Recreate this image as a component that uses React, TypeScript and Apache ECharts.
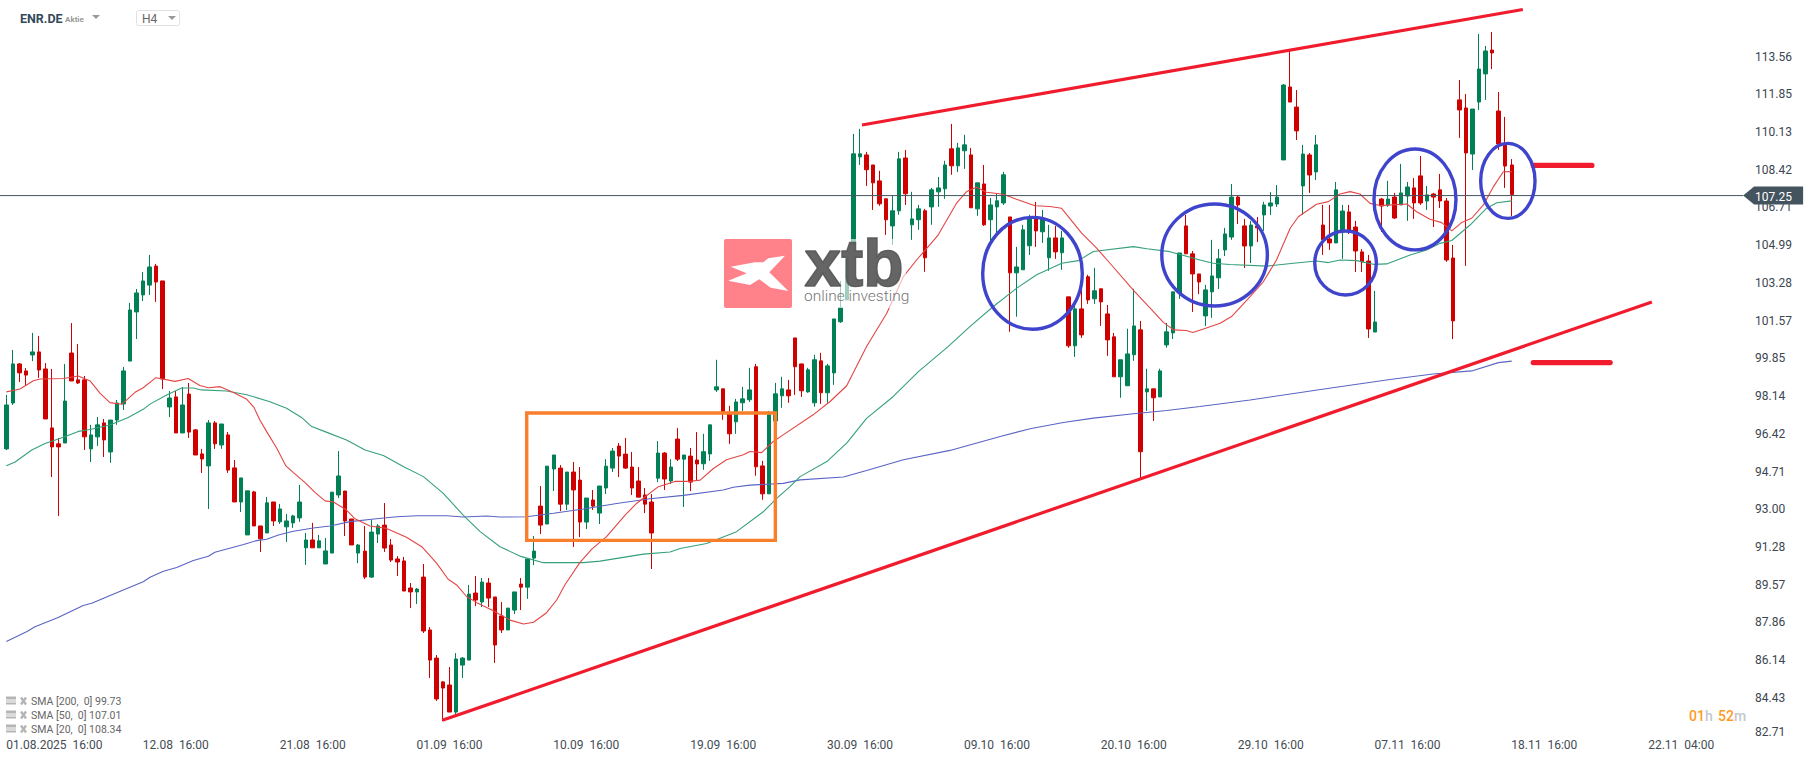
import React, { useEffect, useRef } from "react";
import * as echarts from "echarts";

// rows are [open, close, low, high]
const candlesAug = [
[95.60,97.61,95.55,98.07],[97.70,99.49,97.61,100.13],[99.49,99.08,98.66,99.53],[99.17,98.98,98.48,99.30],[99.90,100.04,99.62,100.91],
[100.04,99.21,98.85,100.77],[99.26,96.97,96.97,99.53],[96.56,95.69,94.31,99.26],[95.83,95.69,92.53,96.10],[95.87,97.79,95.87,99.49],
[99.99,98.71,98.71,101.36],[98.76,98.62,98.57,100.40],[98.76,96.15,95.55,98.94],[95.60,96.24,95.00,96.70],[96.15,96.70,95.73,97.06],
[96.79,96.01,95.23,96.97],[95.46,96.92,94.96,96.92],[96.92,97.70,96.70,97.84],[97.66,99.17,97.38,99.35],[99.62,101.96,99.62,102.28],
[101.87,102.74,100.63,102.92],[102.65,103.29,102.37,103.70],[103.10,103.93,102.65,104.48],[103.97,103.24,102.33,104.07],[103.29,98.80,98.34,103.29],
[97.52,97.93,97.06,98.25],[97.98,96.33,96.33,98.25],[96.33,97.61,96.33,98.43],[98.11,96.37,96.10,98.62],[96.47,95.32,95.32,96.51],
[95.37,95.14,94.50,95.60],[94.82,96.79,92.85,96.92],[96.79,95.83,95.60,96.88],[95.78,96.74,95.60,96.74],[96.24,94.63,94.50,96.37],
[94.73,93.17,93.17,95.09],[93.17,94.27,92.71,94.27],[91.66,93.68,91.66,93.68],[93.63,92.07,92.07,93.68],[92.07,91.48,90.88,92.07],
[91.75,93.13,91.75,93.40],[93.17,92.30,92.07,93.17],[92.26,92.85,92.16,93.08],[92.03,92.30,91.34,92.62],[92.21,92.53,91.98,92.58],
[92.44,93.17,92.26,93.95],[91.07,91.43,90.29,91.75],[91.43,91.07,91.07,92.21],[91.07,91.39,91.07,91.66],[90.33,90.93,90.33,91.52],
[90.83,93.62,90.83,93.62],[93.49,94.36,93.35,95.50],[93.67,92.30,91.61,93.67],[92.39,91.20,91.20,92.39],[90.83,91.20,90.37,91.24],
[90.92,89.73,89.64,92.07],[89.73,91.79,89.69,92.34],[91.70,92.07,91.29,92.16],[92.11,91.06,90.88,93.12],[91.20,90.51,90.42,91.47],
[90.56,90.42,89.78,90.69],[90.47,89.09,89.09,90.65],[89.23,89.05,88.31,89.46],[89.05,89.18,88.50,89.23],[89.73,87.26,87.17,90.33],
[87.31,85.93,85.11,87.44],[86.02,84.15,84.06,86.16],[84.93,84.65,83.14,84.97],
];
const candlesSep = [
[84.79,83.55,83.55,85.61],[83.55,85.98,83.41,86.25],[85.70,86.02,85.11,86.07],[85.93,88.95,85.93,89.37],[89.00,88.68,88.40,89.78],
[88.59,89.50,88.36,89.69],[89.46,88.77,88.36,89.69],[88.82,86.62,85.80,88.82],[87.95,87.31,87.17,88.59],[87.31,88.31,87.31,88.31],
[88.22,89.05,88.04,89.05],[89.41,89.27,88.22,89.69],[89.27,90.56,88.73,90.56],[90.60,90.92,90.28,91.61],[92.98,92.11,91.70,93.90],
[92.16,94.81,92.16,94.81],[94.68,95.32,93.67,95.32],[94.72,93.07,92.75,94.86],[93.07,94.54,92.80,94.54],[94.54,93.72,91.11,95.00],
[94.17,92.25,91.56,94.77],[92.25,93.35,91.93,93.35],[93.26,92.98,92.80,93.72],[92.66,93.90,92.16,93.90],[93.81,94.81,93.53,95.13],
[94.72,95.50,94.54,95.64],[95.73,95.27,94.31,95.87],[95.36,94.72,94.68,96.10],[94.77,93.81,93.49,95.46],[94.13,93.39,93.39,94.77],
[93.49,93.07,92.66,93.81],[93.17,91.75,90.10,93.53],[94.26,95.41,94.08,95.96],[95.41,94.22,93.72,95.46],[94.13,94.77,93.99,95.13],
[96.05,95.13,95.04,96.55],[95.13,95.32,92.94,95.32],[95.27,94.08,93.67,95.64],[95.09,94.91,94.13,96.37],[94.92,95.47,94.64,96.29],
[95.37,96.70,95.05,96.70],[98.30,98.44,98.21,99.68],[98.35,97.30,96.93,98.35],[97.25,96.29,95.83,97.57],[96.84,97.75,96.29,97.89],
[97.71,97.89,97.34,98.44],[97.85,98.30,97.75,99.31],[99.36,94.78,94.37,99.49],[94.82,93.54,93.27,95.05],[93.54,97.16,93.54,97.34],
[96.88,98.12,96.88,98.62],[98.03,98.35,97.48,98.90],[98.30,98.03,97.71,98.76],[100.68,99.36,98.07,100.68],[99.49,98.26,97.98,99.49],
[98.21,99.22,98.17,99.31],[97.71,99.68,97.53,99.91],[99.63,98.17,97.66,100.00],[98.17,99.40,97.71,99.49],[99.08,101.55,98.53,101.55],
[101.42,102.06,101.37,103.29],[102.42,104.30,102.42,104.35],[104.94,109.11,104.91,110.02],
];
const candlesOct = [
[108.97,109.11,108.60,110.25],[109.06,108.38,107.64,109.20],[108.60,107.78,106.54,108.60],[107.87,106.82,106.73,108.33],[107.05,106.09,105.40,107.05],
[105.81,106.50,104.94,107.19],[106.50,108.88,106.32,109.20],[108.92,107.28,106.77,109.29],[105.86,106.13,105.17,107.37],[106.09,106.59,105.63,106.77],
[106.50,104.35,103.71,106.59],[106.68,107.46,105.86,107.55],[107.37,107.55,106.68,108.05],[107.51,108.60,107.05,108.79],[109.34,108.56,108.15,110.48],
[108.56,109.38,108.28,109.61],[109.25,109.52,108.42,109.98],[109.06,106.64,106.64,109.38],[106.59,107.78,106.27,107.78],[107.73,105.86,105.81,108.60],
[106.09,106.77,105.03,107.09],[106.68,106.96,105.40,107.28],[106.86,108.15,106.77,108.28],[106.22,103.66,100.96,106.22],[103.66,103.93,101.65,104.85],
[103.80,105.63,103.80,105.86],[104.90,106.13,104.48,106.32],[106.13,105.58,104.85,106.91],[105.54,106.13,105.03,106.54],[104.35,105.26,103.75,105.86],
[105.26,104.62,104.30,105.81],[104.58,105.26,103.80,105.58],[102.56,100.32,100.23,102.56],[100.32,102.01,99.81,102.15],[102.01,100.82,100.68,102.88],
[103.48,102.42,102.24,103.57],[102.47,102.84,102.24,103.89],[102.93,102.33,101.23,102.93],[101.78,100.59,99.86,102.19],[100.73,98.90,98.90,100.91],
[98.90,99.68,97.94,99.68],[98.49,99.95,98.49,101.10],[99.91,101.23,99.63,102.93],[101.05,95.47,94.28,101.46],[98.21,98.35,97.34,99.27],
[98.35,97.94,96.88,98.35],[97.98,99.17,97.98,99.27],[100.36,100.96,100.23,101.37],[100.91,102.79,100.63,102.79],[102.74,104.57,102.47,104.57],
[105.81,104.53,104.53,106.31],[104.53,103.61,101.87,104.66],[103.61,103.24,102.69,103.61],[101.69,102.88,101.23,103.11],[102.79,103.52,101.60,105.17],
[103.43,104.30,102.92,104.75],[104.71,105.44,104.43,105.72],[105.30,107.13,105.17,107.73],[107.13,106.77,105.90,107.18],[105.81,104.89,103.88,106.13],
[104.89,105.85,104.11,106.04],[105.81,105.72,105.07,106.22],[106.31,106.77,105.58,106.91],[106.72,106.86,106.31,107.36],[106.81,107.13,106.68,107.68],
];
const candlesNov = [
[108.83,112.26,108.83,112.31],[112.17,111.48,111.48,113.86],[111.25,110.16,109.74,112.03],[107.64,109.10,106.31,109.52],[109.06,108.14,107.32,109.15],
[108.28,109.52,107.91,109.97],[105.85,105.17,104.48,106.77],[105.21,105.03,104.71,106.77],[105.03,107.46,105.03,107.82],[105.58,106.49,104.30,106.77],
[106.45,105.62,105.44,106.77],[105.76,104.66,103.70,106.04],[104.62,104.16,103.70,104.75],[104.20,101.09,100.68,104.48],[100.95,101.41,100.95,102.83],
[107.04,106.72,105.53,107.09],[106.77,107.04,106.68,107.87],[107.13,106.17,106.13,107.32],[106.77,107.32,106.77,108.65],[107.18,107.59,106.04,107.82],
[107.55,106.86,106.13,108.00],[108.10,106.86,106.77,109.01],[106.95,107.23,106.54,107.64],[107.27,107.13,105.76,107.32],[107.46,106.95,106.63,108.19],
[106.95,104.25,104.16,107.09],[104.34,101.46,100.63,104.94],[111.58,111.12,109.84,112.49],[111.21,109.15,103.98,111.85],[109.10,111.16,108.37,111.16],
[111.48,112.99,111.12,114.60],[112.77,113.82,111.58,114.05],[113.86,113.73,112.99,114.69],[111.07,109.56,109.29,111.94],[109.52,108.55,107.55,110.80],
[108.60,107.25,106.26,108.87],
];

// [bar position, value]
const sma20 = [
[0,98.21],[2.1,98.34],[4.15,98.72],[5.2,98.8],[8.75,98.82],[11.05,98.94],[12.85,98.71],[14.4,98.14],[15.9,97.72],[17.7,97.64],[19.75,98.19],[21,98.4],[22.95,98.86],[25.9,98.69],[27.9,98.82],[29.7,98.5],[31,98.4],[32.8,98.45],[34.85,98.18],[36.9,97.87],[38,97.5],[38.9,96.92],[39.95,96.39],[41.5,95.63],[42.9,94.82],[44.05,94.51],[45.8,94.07],[47.4,93.6],[48.9,93.22],[50.2,93.17],[52.2,92.8],[53.5,92.4],[55.8,92.07],[58.35,91.96],[61.4,91.55],[63.75,91.12],[66.05,90.36],[67.8,89.63],[69.1,89.37],[70.65,88.83],[72.2,88.56],[74.5,88.22],[77.3,87.76],[79.35,87.58],[80.9,87.66],[82.9,88.1],[84.45,88.68],[85.7,89.37],[88,90.39],[89.8,91],[92.1,91.58],[94.95,92.57],[96.7,93.1],[100.05,93.87],[102.6,94.11],[104.65,94.11],[106.45,94.17],[108.5,94.7],[110.5,95.1],[113.1,95.33],[114.1,95.48],[115.9,95.43],[117.7,95.94],[119.2,96.24],[123.8,97.16],[126.4,97.77],[128.95,98.49],[132,100.29],[135.1,101.81],[137.65,103.49],[139.7,104.26],[141.7,104.94],[143,105.4],[145.8,106.85],[147.35,107.38],[148.9,107.58],[150.4,107.35],[153,107.26],[155,107.03],[157.85,106.73],[160.15,106.7],[161.9,106.62],[165,105.48],[167.3,104.79],[169.35,104.1],[172.9,102.88],[177.55,101.39],[179.1,101.05],[181.1,101.02],[182.05,100.93],[183.7,101.09],[186.25,101.35],[188,101.66],[190.85,102.57],[192.9,103.26],[194.9,104.25],[197,105.7],[198.25,106.23],[201.05,106.8],[202.85,106.92],[204.65,107.27],[206.2,107.38],[207.7,107.27],[209.25,106.84],[210.8,106.74],[214.9,106.81],[216.4,106.46],[218.45,106.11],[220.25,105.96],[221.8,105.58],[223.3,105.96],[224.85,106.16],[226.65,106.77],[228.2,107.61],[229.7,108.29],[231,108.34],
];
const sma50 = [
[0,94.83],[1.35,95],[3.9,95.55],[5.95,95.85],[8.75,96.13],[11.05,96.4],[12.85,96.49],[15.9,96.69],[18.7,97.04],[21,97.41],[22.05,97.65],[24.6,98.07],[26.9,98.39],[28.7,98.39],[29.95,98.3],[33.8,98.25],[36.9,98.08],[40.45,97.76],[43,97.46],[45.3,97.04],[46.85,96.62],[48.9,96.39],[52.2,96.01],[55.05,95.55],[57.85,95.3],[60.9,94.79],[64,94.33],[67.05,93.56],[70.1,92.57],[72.7,91.81],[75.75,91.12],[78.8,90.69],[82.4,90.39],[88.55,90.39],[91.1,90.46],[97.75,90.78],[101.85,90.88],[103.4,91.04],[107.45,91.27],[112.05,91.81],[116.15,92.72],[118.2,93.33],[120.25,93.87],[121.8,94.33],[125.9,95.02],[128.95,95.86],[132,97],[136.1,98],[139.95,99.14],[144.55,100.29],[147.85,101.2],[151.45,102.12],[155.05,102.96],[158.1,103.57],[161.95,104.1],[164.5,104.22],[166.8,104.64],[172.95,104.86],[175,104.76],[178.55,104.63],[183.15,104.25],[185.2,104.1],[187.75,104.04],[193.4,103.97],[197.5,104.1],[201.05,104.2],[202.85,104.13],[204.65,104.25],[207.2,104.22],[209.75,104.05],[211.8,104.07],[215.4,104.48],[217.95,104.71],[220,105.01],[221.8,105.14],[224.6,105.85],[227.15,106.62],[228.7,106.87],[231,107.01],
];
const sma200 = [
[0,86.78],[3.1,87.23],[4.4,87.46],[7.95,87.88],[11.8,88.43],[13.1,88.53],[14.65,88.73],[17.95,89.14],[21,89.52],[22.05,89.72],[24.1,90],[26.15,90.17],[28.7,90.49],[31,90.68],[32,90.87],[36.4,91.22],[38.4,91.4],[39.95,91.46],[41.75,91.66],[44.05,91.83],[47.1,91.98],[49.65,92.07],[52.75,92.27],[56.8,92.4],[59.9,92.49],[63,92.54],[67.55,92.54],[70.1,92.48],[73.7,92.53],[75.75,92.48],[79.85,92.49],[83.95,92.65],[88.55,92.85],[93.65,93.1],[98.75,93.32],[103.9,93.47],[110,93.72],[111.55,93.84],[114.1,93.94],[119.2,94.02],[121.8,94.18],[128.45,94.31],[132,94.61],[137.65,95.1],[144.8,95.53],[152.5,96.17],[157.1,96.52],[162.2,96.81],[166.8,97.01],[172.95,97.21],[178.05,97.36],[183.15,97.54],[190.85,97.84],[203.25,98.39],[212.6,98.79],[218.95,99.03],[224.85,99.17],[228.95,99.55],[231,99.73],
];

const BAR_SLOTS = 267;
const yTicks = [113.56,111.85,110.13,108.42,106.71,104.99,103.28,101.57,99.85,98.14,96.42,94.71,93.0,91.28,89.57,87.86,86.14,84.43,82.71];
const xTickIndex = [0,26,47,68,89,110,131,152,173,194,215,236,257];
const xTickText = ["01.08.2025  16:00","12.08  16:00","21.08  16:00","01.09  16:00","10.09  16:00","19.09  16:00","30.09  16:00","09.10  16:00","20.10  16:00","29.10  16:00","07.11  16:00","18.11  16:00","22.11  04:00"];
const lastPrice = 107.25;
const smaLegend = ["SMA [200,  0] 99.73","SMA [50,  0] 107.01","SMA [20,  0] 108.34"];

// [x1, price1, x2, price2]
const trendLines = [[66.9,83.17,252.5,102.33],[131.3,110.43,232.7,115.72]];
const levelLines = [[234.3,108.58,243.3,108.58],[234.3,99.55,246.1,99.55]];
const boxes = [[79.85,97.24,118,91.41]];
// [centre x, centre price, radius in bars, radius in price]
const circles = [[157.46,103.64,7.64,2.56],[185.4,104.48,8.1,2.335],[205.5,104.11,4.73,1.465],[216.15,107.02,6.29,2.31],[230.4,107.87,4.17,1.717]];

// The readings above were taken with a first axis fit; the tick labels give this finer one.
const READ_SLOPE = 0.99228;
const fit = (p: number) => 113.563 - READ_SLOPE * (113.56 - p);

const UP = "#008054", DOWN = "#CF0000", TEXT = "#3b4650", FONT = "Roboto";

export default function App() {
  const ref = useRef<HTMLDivElement>(null);
  useEffect(() => {
    const chart = echarts.init(ref.current!, null, { renderer: "svg" });
    const candles = [...candlesAug, ...candlesSep, ...candlesOct, ...candlesNov].map((r) => r.map(fit));
    const categories = Array.from({ length: BAR_SLOTS }, (_, i) => {
      const k = xTickIndex.indexOf(i);
      return k >= 0 ? xTickText[k] : "";
    });
    const smaLine = (name: string, data: number[][], color: string) => ({
      name, type: "line", data: data.map(([x, v], i) => [x, i === data.length - 1 ? v : fit(v)]), xAxisIndex: 1, yAxisIndex: 0, showSymbol: false, symbol: "none", smooth: false,
      lineStyle: { color, width: 1.1 }, z: 3, silent: true,
    });
    const fitSeg = (r: number[]) => [r[0], fit(r[1]), r[2], fit(r[3])];
    const grid = { left: 3.07, top: 0, width: 1740.04, height: 738 };
    const segment = (color: string, width: number, cap: string) => (_: any, api: any) => {
      const a = api.coord([api.value(0), api.value(1)]);
      const b = api.coord([api.value(2), api.value(3)]);
      return { type: "line", shape: { x1: a[0], y1: a[1], x2: b[0], y2: b[1] }, style: { stroke: color, lineWidth: width, lineCap: cap } };
    };
    const icon = (y: number) => [
      { type: "rect", shape: { x: 6, y: y - 5, width: 10, height: 3 }, style: { fill: "#b5b5b5" } },
      { type: "rect", shape: { x: 6, y: y - 1, width: 10, height: 1 }, style: { fill: "#b5b5b5" } },
      { type: "rect", shape: { x: 6, y: y + 1, width: 10, height: 2 }, style: { fill: "#b5b5b5" } },
      { type: "line", shape: { x1: 21, y1: y - 4, x2: 26, y2: y + 3 }, style: { stroke: "#b5b5b5", lineWidth: 2.4 } },
      { type: "line", shape: { x1: 26, y1: y - 4, x2: 21, y2: y + 3 }, style: { stroke: "#b5b5b5", lineWidth: 2.4 } },
    ];
    const legendEls = smaLegend.flatMap((t, i) => {
      const y = 701.5 + i * 14;
      return [...icon(y), { type: "text", style: { x: 31, y, text: t, fill: "#666", font: `10.5px ${FONT}`, verticalAlign: "middle" } }];
    });
    chart.setOption({
      animation: false,
      backgroundColor: "#fff",
      textStyle: { fontFamily: FONT },
      grid,
      xAxis: [
        {
          type: "category", data: categories, boundaryGap: true,
          axisLine: { show: false }, axisTick: { show: false }, splitLine: { show: false },
          axisLabel: { interval: (_: number, v: string) => v !== "", color: "#444c54", fontSize: 12, fontFamily: FONT, margin: 1, alignMinLabel: "left", hideOverlap: false },
        },
        { type: "value", min: -0.5, max: BAR_SLOTS - 0.5, show: false, splitLine: { show: false } },
      ],
      yAxis: {
        type: "value", position: "right", scale: true, min: 82.606, max: 116.136,
        axisLine: { show: false }, axisTick: { show: false }, splitLine: { show: false },
        axisLabel: {
          customValues: yTicks,
          formatter: (v: number) => (v === 82.71 ? `{low|${v.toFixed(2)}}` : v.toFixed(2)),
          rich: { low: { color: TEXT, fontSize: 12, fontFamily: FONT, padding: [0, 0, 8, 0] } },
          color: TEXT, fontSize: 12, fontFamily: FONT, margin: 12, align: "left",
        },
      },
      series: [
        {
          name: "ENR.DE", type: "candlestick", data: candles, xAxisIndex: 0, yAxisIndex: 0, barWidth: 4, z: 2,
          itemStyle: { color: UP, color0: DOWN, borderColor: UP, borderColor0: DOWN, borderWidth: 1 },
        },
        smaLine("SMA 200", sma200, "#5a64c4"),
        smaLine("SMA 50", sma50, "#35a07c"),
        smaLine("SMA 20", sma20, "#e44545"),
        {
          name: "price", type: "custom", xAxisIndex: 1, yAxisIndex: 0, z: 4, silent: true,
          data: [[-0.97, BAR_SLOTS - 0.5, lastPrice]],
          renderItem: (_: any, api: any) => {
            const a = api.coord([api.value(0), api.value(2)]);
            const b = api.coord([api.value(1), api.value(2)]);
            const y = a[1];
            const tip = b[0];
            return {
              type: "group",
              children: [
                { type: "line", shape: { x1: a[0], y1: y, x2: tip, y2: y }, style: { stroke: "#44545f", lineWidth: 1 } },
                { type: "polygon", shape: { points: [[tip, y], [tip + 11, y - 9], [tip + 60, y - 9], [tip + 60, y + 9], [tip + 11, y + 9]] }, style: { fill: "#44545f" } },
                { type: "text", style: { x: tip + 12, y: y + 1, text: lastPrice.toFixed(2), fill: "#fff", font: `12px ${FONT}`, verticalAlign: "middle" } },
              ],
            };
          },
        },
        { name: "trend", type: "custom", xAxisIndex: 1, yAxisIndex: 0, z: 5, silent: true, data: trendLines.map(fitSeg), renderItem: segment("#f01c2d", 3.2, "butt") },
        { name: "levels", type: "custom", xAxisIndex: 1, yAxisIndex: 0, z: 5, silent: true, data: levelLines.map(fitSeg), renderItem: segment("#f01c2d", 5.2, "round") },
        {
          name: "box", type: "custom", xAxisIndex: 1, yAxisIndex: 0, z: 5, silent: true, data: boxes.map(fitSeg),
          renderItem: (_: any, api: any) => {
            const a = api.coord([api.value(0), api.value(1)]);
            const b = api.coord([api.value(2), api.value(3)]);
            return { type: "rect", shape: { x: a[0], y: a[1], width: b[0] - a[0], height: b[1] - a[1] }, style: { fill: "none", stroke: "#f97f2c", lineWidth: 3.4 } };
          },
        },
        {
          name: "circles", type: "custom", xAxisIndex: 1, yAxisIndex: 0, z: 6, silent: true,
          data: circles.map((c) => [c[0], fit(c[1]), c[2], c[3] * READ_SLOPE]),
          renderItem: (_: any, api: any) => {
            const c = api.coord([api.value(0), api.value(1)]);
            const e = api.coord([api.value(0) + api.value(2), api.value(1) + api.value(3)]);
            return { type: "ellipse", shape: { cx: c[0], cy: c[1], rx: e[0] - c[0], ry: c[1] - e[1] }, style: { fill: "none", stroke: "#3f44cc", lineWidth: 3.4 } };
          },
        },
      ],
      graphic: {
        z: 100,
        elements: [
          { type: "rect", z: 100, shape: { x: 724, y: 239, width: 182, height: 69 }, style: { fill: "rgba(255,255,255,0.62)" } },
          { type: "rect", z: 101, shape: { x: 724, y: 239, width: 68, height: 69, r: 2 }, style: { fill: "#ff8189" } },
          { type: "polygon", z: 102, shape: { points: [[730.7,266.7],[755,262.3],[763.3,262.3],[768.3,258.3],[785,255.7],[769.3,272.3],[788.3,291],[770.7,287.7],[759.3,279.3],[750,285],[728.3,280.7],[746.7,273.3]] }, style: { fill: "#fff" } },
          { type: "text", z: 102, style: { x: 804.5, y: 263, text: "xtb", fill: "rgba(88,88,88,0.92)", stroke: "rgba(88,88,88,0.92)", lineWidth: 1.6, font: "bold 66px 'Liberation Sans'", verticalAlign: "middle" } },
          { type: "text", z: 102, style: { x: 804, y: 295.5, text: "online investing", fill: "#777", font: `300 15.5px ${FONT}`, verticalAlign: "middle" } },

          { type: "text", style: { x: 20, y: 18, text: "ENR.DE", fill: "#34495a", font: `bold 12.5px ${FONT}`, verticalAlign: "middle" } },
          { type: "text", style: { x: 65, y: 19, text: "Aktie", fill: "#999", font: `bold 8px ${FONT}`, verticalAlign: "middle" } },
          { type: "polygon", shape: { points: [[92, 15], [100, 15], [96, 19]] }, style: { fill: "#999" } },
          { type: "rect", shape: { x: 136.5, y: 10.5, width: 43, height: 15, r: 2 }, style: { fill: "#fff", stroke: "#e2e2e2", lineWidth: 1 } },
          { type: "text", style: { x: 142, y: 19, text: "H4", fill: "#666", font: `12px ${FONT}`, verticalAlign: "middle" } },
          { type: "polygon", shape: { points: [[168, 16], [176, 16], [172, 20]] }, style: { fill: "#999" } },

          ...legendEls,

          { type: "text", style: { x: 1689, y: 716, text: "01", fill: "#ff9a1f", font: `500 14px ${FONT}`, verticalAlign: "middle" } },
          { type: "text", style: { x: 1705, y: 716, text: "h", fill: "#c3c8cc", font: `500 14px ${FONT}`, verticalAlign: "middle" } },
          { type: "text", style: { x: 1718, y: 716, text: "52", fill: "#ff9a1f", font: `500 14px ${FONT}`, verticalAlign: "middle" } },
          { type: "text", style: { x: 1734, y: 716, text: "m", fill: "#c3c8cc", font: `500 14px ${FONT}`, verticalAlign: "middle" } },
        ],
      },
    });
    return () => chart.dispose();
  }, []);
  return <div ref={ref} style={{ position: "absolute", left: 0, top: 0, width: 1815, height: 761 }} />;
}
